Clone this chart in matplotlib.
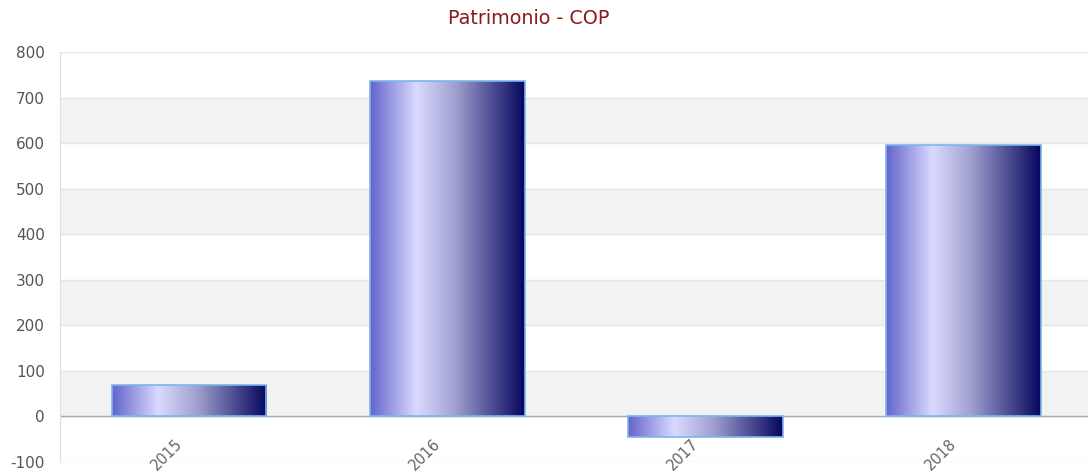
import numpy as np
import matplotlib
matplotlib.use("Agg")
import matplotlib.pyplot as plt
from matplotlib.colors import LinearSegmentedColormap
from matplotlib.transforms import blended_transform_factory

plt.rcParams["font.family"] = ["DejaVu Sans"]

categories = ["2015", "2016", "2017", "2018"]
values = [69, 736, -45, 596]
yticks = [-100, 0, 100, 200, 300, 400, 500, 600, 700, 800]
title = "Patrimonio - COP"

fig = plt.figure(figsize=(10.88, 4.74), dpi=100)
ax = fig.add_axes([60/1088, 12/474, 1 - 60/1088, 410/474])

# alternate bands
for lo in range(0, 800, 200):
    ax.axhspan(lo, lo + 100, color="#f2f2f2", zorder=0, lw=0)
for t in yticks:
    ax.axhline(t, color="#e6e6e6", lw=1, zorder=0.5)
ax.axhline(0, color="#a8a8a8", lw=1, zorder=0.6)

cmap = LinearSegmentedColormap.from_list(
    "g", [(0, "#6464cc"), (0.3, "#dadaff"), (0.55, "#a0a0d0"), (1, "#06065f")])
grad = np.linspace(0, 1, 256).reshape(1, -1)
width = 0.6
bars = ax.bar(range(len(categories)), values, width=width, facecolor="none",
              edgecolor="#7cb5ec", lw=1.2, zorder=3)
for b in bars:
    x0 = b.get_x()
    y0 = b.get_y()
    h = b.get_height()
    im = ax.imshow(grad, cmap=cmap, aspect="auto",
                   extent=[x0, x0 + b.get_width(), min(y0, y0 + h), max(y0, y0 + h)],
                   zorder=2, interpolation="bicubic")
    im.set_clip_path(b)
ax.set_xlim(-0.5, 3.4826)
ax.set_ylim(-100, 800)

for s in ["top", "right", "bottom"]:
    ax.spines[s].set_visible(False)
ax.spines["left"].set_color("#e0e0e0")
ax.set_yticks(yticks)
ax.set_yticklabels([str(t) for t in yticks])
ax.tick_params(axis="y", length=0, pad=11, labelsize=11, labelcolor="#555555")
ax.set_xticks([])

trans = blended_transform_factory(ax.transData, ax.transAxes)
for i, c in enumerate(categories):
    ax.text(i - 0.035, 0.05, c, rotation=45, rotation_mode="anchor",
            ha="right", va="center", fontsize=10.5, color="#666666",
            transform=trans, zorder=4, clip_on=False)

fig.text(529/1088, 1 - 19/474, title, ha="center", va="center",
         fontsize=13.8, color="#8b1a1a")

fig.savefig("out.png", dpi=100)
